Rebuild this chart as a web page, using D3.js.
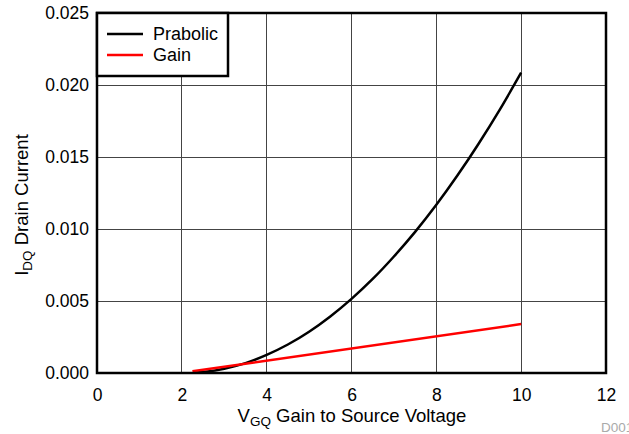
<!DOCTYPE html>
<html><head><meta charset="utf-8">
<script src="https://cdn.jsdelivr.net/npm/d3@7/dist/d3.min.js"></script>
<style>body{margin:0;background:#fff;} svg{display:block;font-family:"Liberation Sans",Arial,sans-serif;}</style>
</head><body>
<svg id="c" width="629" height="434"></svg>
<script>
const xTicks = [0, 2, 4, 6, 8, 10, 12];
const yTicks = [0, 0.005, 0.010, 0.015, 0.020, 0.025];
const yTickLabels = ["0.000", "0.005", "0.010", "0.015", "0.020", "0.025"];
const seriesNames = ["Prabolic", "Gain"];
const seriesColors = ["#000000", "#ff0000"];
const prabolicV = [2.3, 2.5, 3, 3.5, 4, 4.5, 5, 5.5, 6, 6.5, 7, 7.5, 8, 8.5, 9, 9.5, 10];
const prabolicI = [0.00002, 0.00007, 0.0003, 0.00069, 0.00126, 0.00198, 0.00287, 0.00393, 0.00515, 0.00653, 0.00809, 0.0098, 0.01168, 0.01373, 0.01594, 0.01831, 0.02086];
const gainV = [2.25, 10];
const gainI = [0.00012, 0.0034];

const svg = d3.select("#c");
const L = 97, R = 606, T = 13, B = 373;
const x = d3.scaleLinear().domain([0, 12]).range([L, R]);
const y = d3.scaleLinear().domain([0, 0.025]).range([B, T]);

// grid
svg.append("g").selectAll("line").data(xTicks.slice(1, -1)).join("line")
  .attr("x1", d => x(d)).attr("x2", d => x(d)).attr("y1", T).attr("y2", B)
  .attr("stroke", "#444").attr("stroke-width", 1).attr("shape-rendering", "crispEdges");
svg.append("g").selectAll("line").data(yTicks.slice(1, -1)).join("line")
  .attr("y1", d => y(d)).attr("y2", d => y(d)).attr("x1", L).attr("x2", R)
  .attr("stroke", "#444").attr("stroke-width", 1).attr("shape-rendering", "crispEdges");

// axes tick labels
const xAxis = d3.axisBottom(x).tickValues(xTicks).tickSize(0).tickPadding(16).tickFormat(d3.format("d"));
const gx = svg.append("g").attr("transform", `translate(0,${B})`).call(xAxis);
gx.select(".domain").remove();
gx.selectAll("text").attr("font-size", 17.5).attr("fill", "#000").attr("font-family", "Liberation Sans, Arial, sans-serif");

const yAxis = d3.axisLeft(y).tickValues(yTicks).tickSize(0).tickPadding(8).tickFormat((d, i) => yTickLabels[i]);
const gy = svg.append("g").attr("transform", `translate(${L},0)`).call(yAxis);
gy.select(".domain").remove();
gy.selectAll("text").attr("font-size", 17.5).attr("fill", "#000").attr("font-family", "Liberation Sans, Arial, sans-serif");

// lines
svg.append("clipPath").attr("id", "pc").append("rect").attr("x", L).attr("y", T).attr("width", R - L).attr("height", B - T);
const line = d3.line().x(d => x(d[0])).y(d => y(d[1])).curve(d3.curveMonotoneX);
svg.append("path").datum(prabolicV.map((v, i) => [v, prabolicI[i]]))
  .attr("d", line).attr("fill", "none").attr("stroke", seriesColors[0]).attr("stroke-width", 2.5).attr("clip-path", "url(#pc)");
svg.append("path").datum(gainV.map((v, i) => [v, gainI[i]]))
  .attr("d", line).attr("fill", "none").attr("stroke", seriesColors[1]).attr("stroke-width", 2.5).attr("clip-path", "url(#pc)");

// frame
svg.append("rect").attr("x", L).attr("y", T).attr("width", R - L).attr("height", B - T)
  .attr("fill", "none").attr("stroke", "#000").attr("stroke-width", 2.5);

// legend
const lg = svg.append("g");
lg.append("rect").attr("x", L).attr("y", T).attr("width", 131).attr("height", 63)
  .attr("fill", "#fff").attr("stroke", "#000").attr("stroke-width", 2.5);
seriesNames.forEach((n, i) => {
  const yy = 34 + i * 21;
  lg.append("line").attr("x1", 107).attr("x2", 143).attr("y1", yy).attr("y2", yy)
    .attr("stroke", seriesColors[i]).attr("stroke-width", 2.5);
  lg.append("text").attr("x", 153).attr("y", yy).attr("dy", "0.36em").attr("font-size", 18).text(n);
});

// axis titles
const xt = svg.append("text").attr("x", 352).attr("y", 422).attr("text-anchor", "middle").attr("font-size", 18.5);
xt.append("tspan").text("V");
xt.append("tspan").attr("font-size", 13.5).attr("dy", 4).text("GQ");
xt.append("tspan").attr("dy", -4).text(" Gain to Source Voltage");

const yt = svg.append("text").attr("transform", "translate(28,205) rotate(-90)").attr("text-anchor", "middle").attr("font-size", 18.5);
yt.append("tspan").text("I");
yt.append("tspan").attr("font-size", 13.5).attr("dy", 4).text("DQ");
yt.append("tspan").attr("dy", -4).text(" Drain Current");

svg.append("text").attr("x", 601).attr("y", 432).attr("font-size", 13.5).attr("fill", "#aaa").text("D001");
</script>
</body></html>
